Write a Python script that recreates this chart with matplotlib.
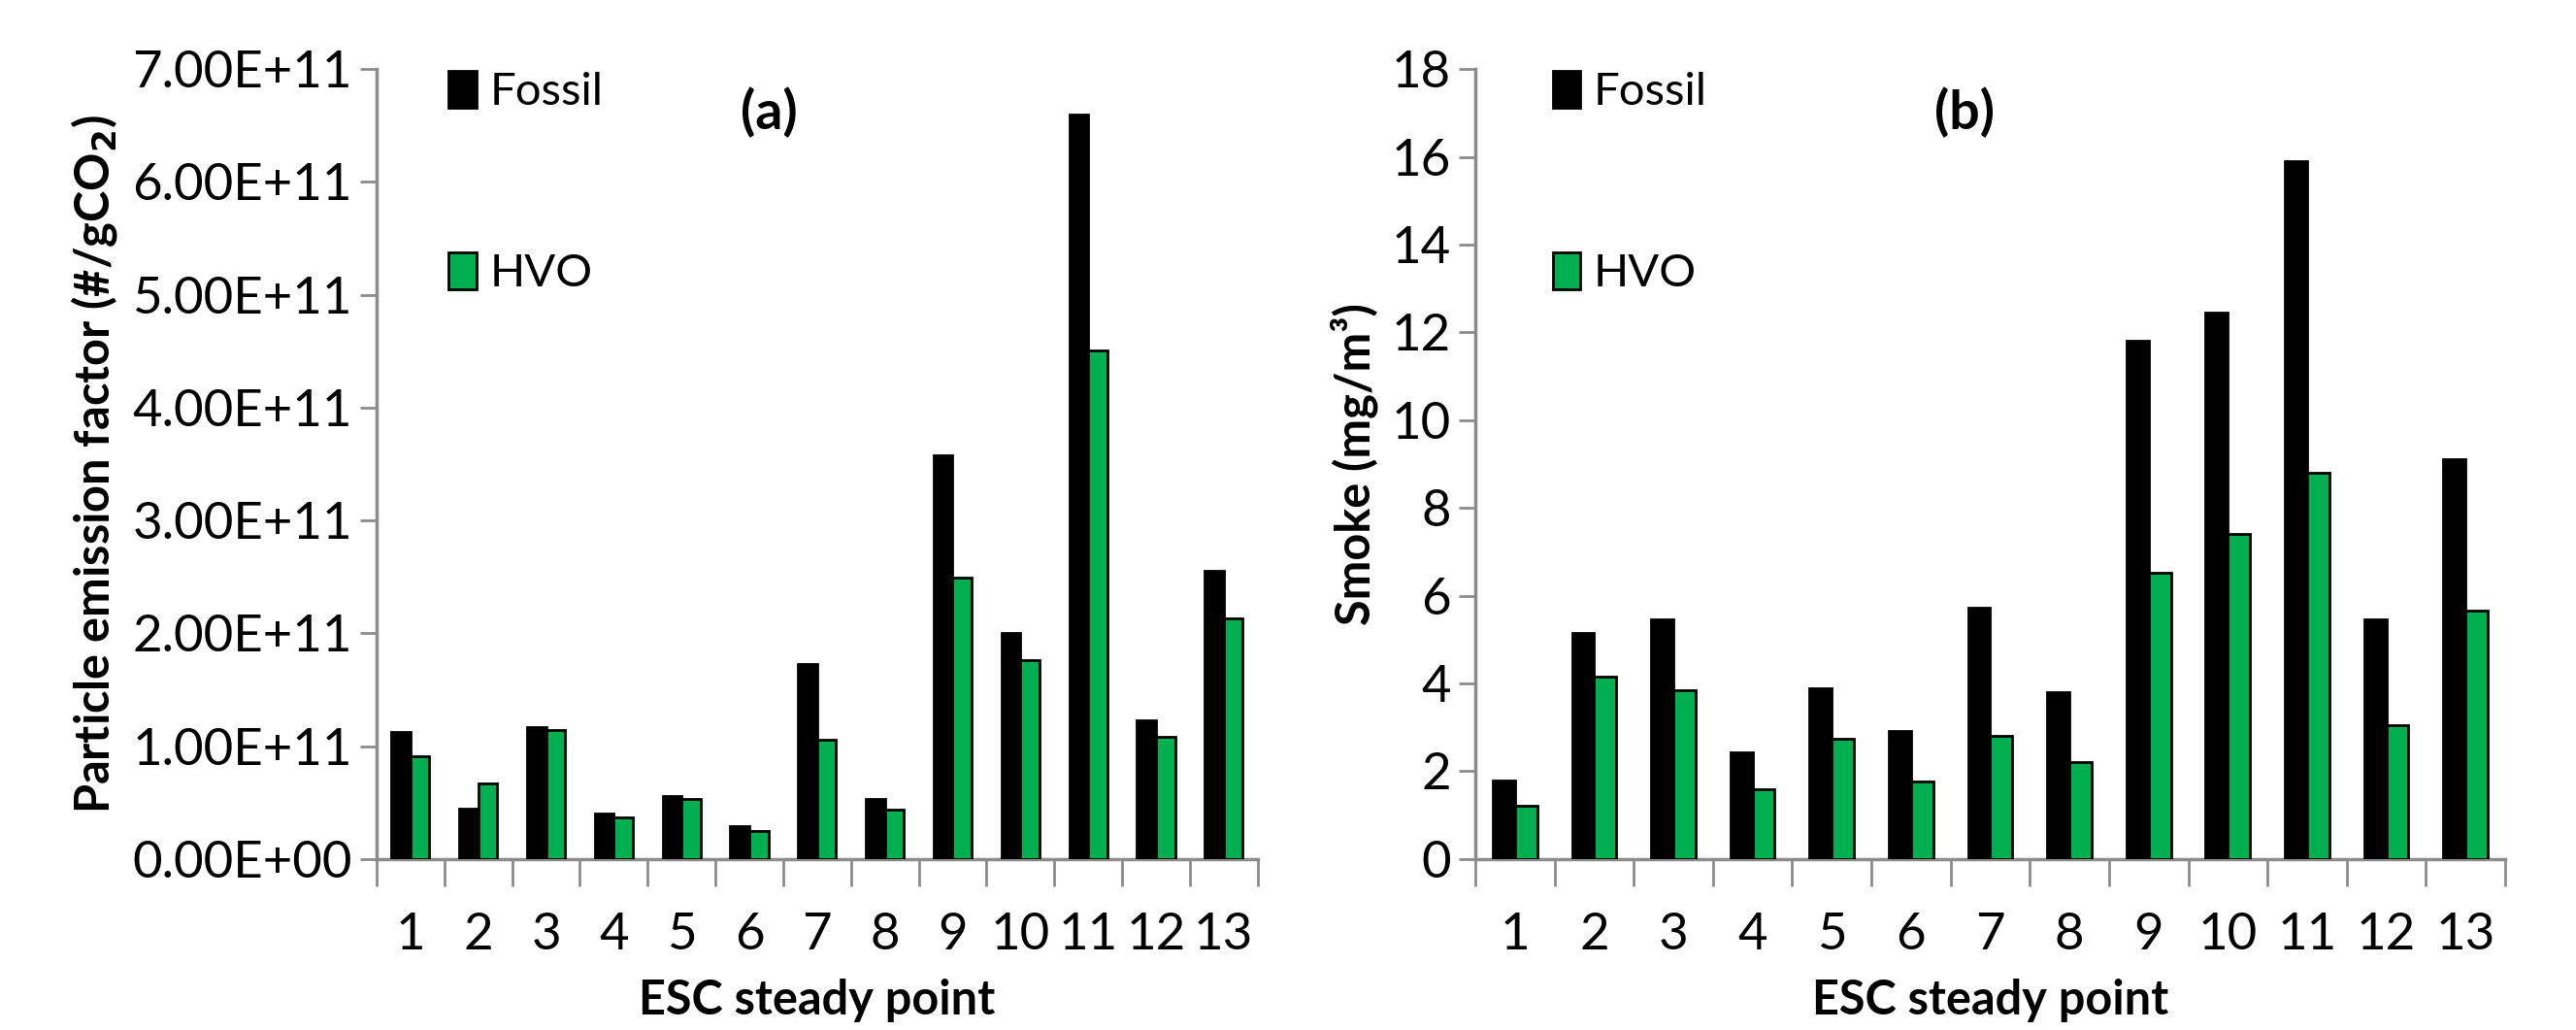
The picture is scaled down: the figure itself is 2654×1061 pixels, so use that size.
import matplotlib
matplotlib.use("Agg")
import matplotlib.pyplot as plt
import numpy as np

# ESC steady points
points = [str(i) for i in range(1, 14)]

# (a) particle emission factor, #/gCO2
pef_fossil = [1.13e11, 0.45e11, 1.17e11, 0.40e11, 0.56e11, 0.29e11, 1.73e11,
              0.53e11, 3.58e11, 2.00e11, 6.60e11, 1.23e11, 2.55e11]
pef_hvo = [0.91e11, 0.67e11, 1.14e11, 0.37e11, 0.53e11, 0.25e11, 1.06e11,
           0.44e11, 2.49e11, 1.76e11, 4.51e11, 1.08e11, 2.13e11]

# (b) smoke, mg/m3
smoke_fossil = [1.78, 5.15, 5.45, 2.42, 3.90, 2.92, 5.72, 3.80, 11.80, 12.45,
                15.90, 5.45, 9.12]
smoke_hvo = [1.22, 4.15, 3.85, 1.58, 2.75, 1.77, 2.80, 2.20, 6.52, 7.40,
             8.80, 3.05, 5.65]

plt.rcParams["font.family"] = ["Lato", "DejaVu Sans"]
plt.rcParams["mathtext.default"] = "regular"

AXIS_GRAY = "#8c8c8c"
GREEN = "#00b050"
TICK_FS = 38
LABEL_FS = 35

fig = plt.figure(figsize=(26.54, 10.61), dpi=100)
ax_a = fig.add_axes([0.1462, 0.166, 0.342, 0.767])
ax_b = fig.add_axes([0.5727, 0.166, 0.3998, 0.767])


def draw_panel(ax, fossil, hvo, ymax, ystep, fmt, ylabel, tag, tag_x):
    x = np.arange(1, len(points) + 1)
    w = 0.28
    ax.bar(x - w / 2, fossil, w, color="black", edgecolor="black",
           linewidth=2, label="Fossil", zorder=3)
    ax.bar(x + w / 2, hvo, w, color=GREEN, edgecolor="black",
           linewidth=2, label="HVO", zorder=3)

    ax.set_xlim(0.5, len(points) + 0.5)
    ax.set_ylim(0, ymax)
    ax.set_yticks(np.arange(0, ymax + ystep / 2, ystep))
    ax.yaxis.set_major_formatter(fmt)

    # tick marks between categories, labels at the centres
    ax.set_xticks(np.arange(0.5, len(points) + 1, 1.0))
    ax.set_xticklabels([])
    ax.set_xticks(x, minor=True)
    ax.set_xticklabels(points, minor=True)
    ax.tick_params(axis="x", which="major", direction="out", length=20,
                   width=2, color=AXIS_GRAY)
    ax.tick_params(axis="x", which="minor", length=0, pad=40,
                   labelsize=TICK_FS)
    ax.tick_params(axis="y", direction="out", length=12, width=2,
                   color=AXIS_GRAY, labelsize=TICK_FS, pad=6)

    for side in ("top", "right"):
        ax.spines[side].set_visible(False)
    for side in ("left", "bottom"):
        ax.spines[side].set_color(AXIS_GRAY)
        ax.spines[side].set_linewidth(2.5)

    ax.set_xlabel("ESC steady point", fontsize=LABEL_FS, fontweight="bold",
                  labelpad=15)
    ax.set_ylabel(ylabel, fontsize=LABEL_FS, fontweight="bold", labelpad=10)
    ax.text(tag_x, 0.945, tag, transform=ax.transAxes, fontsize=40,
            fontweight="bold", ha="center", va="center")

    ax.legend(loc="upper left", bbox_to_anchor=(0.035, 1.05),
              frameon=False, fontsize=34, handlelength=0.6,
              handleheight=0.85, handletextpad=0.3, labelspacing=3.05)


def sci_fmt(v, _):
    if v == 0:
        return "0.00E+00"
    return f"{v:.2E}"


draw_panel(ax_a, pef_fossil, pef_hvo, 7e11, 1e11,
           matplotlib.ticker.FuncFormatter(sci_fmt),
           r"Particle emission factor (#/gCO$_\mathbf{2}$)", "(a)", 0.445)
draw_panel(ax_b, smoke_fossil, smoke_hvo, 18, 2,
           matplotlib.ticker.FuncFormatter(lambda v, _: f"{v:g}"),
           "Smoke (mg/m³)", "(b)", 0.475)

fig.savefig("out.png", dpi=100)
